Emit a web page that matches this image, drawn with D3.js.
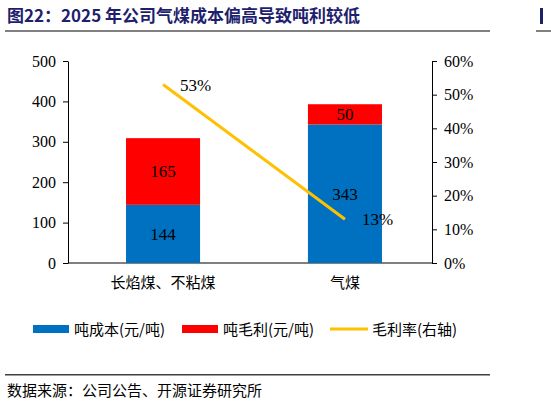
<!DOCTYPE html>
<html><head><meta charset="utf-8">
<script src="https://cdn.jsdelivr.net/npm/d3@7"></script>
<style>body{margin:0;background:#fff}</style>
</head><body><svg id="c" width="551" height="405"></svg>
<script>
const categories = ['长焰煤、不粘煤', '气煤'];
const cost = [144, 343];
const profit = [165, 50];
const margin = [0.53, 0.13];
const leftTicks = [0, 100, 200, 300, 400, 500];
const rightTicks = [0, 0.1, 0.2, 0.3, 0.4, 0.5, 0.6];

const svg = d3.select('#c');
const serif = '"Liberation Serif", "Times New Roman", serif';
const cjk = '"Noto Sans CJK SC", sans-serif';

svg.append('text').attr('x', 7).attr('y', 22).attr('fill', '#1f1f6e')
    .attr('font-family', '"Noto Sans CJK SC", sans-serif').attr('font-weight', 'bold').attr('font-size', 17)
    .text('图22：2025 年公司气煤成本偏高导致吨利较低');
svg.append('rect').attr('x', 5).attr('y', 30).attr('width', 485).attr('height', 2).attr('fill', '#808080');
svg.append('rect').attr('x', 540).attr('y', 8).attr('width', 3).attr('height', 16).attr('fill', '#1f1f6e');
svg.append('rect').attr('x', 536).attr('y', 30).attr('width', 15).attr('height', 2).attr('fill', '#808080');

const L = 68, R = 432, T = 61, B = 263;
const x = d3.scaleBand().domain(categories).range([L, R]).paddingInner(0.593).paddingOuter(0.297).align(0.537);
const y = d3.scaleLinear().domain([0, 500]).range([B, T]);
const y2 = d3.scaleLinear().domain([0, 0.6]).range([B, T]);

const ax = svg.append('g').attr('transform', `translate(${L},0)`)
    .call(d3.axisLeft(y).tickValues(leftTicks).tickSize(5).tickSizeOuter(0));
const ax2 = svg.append('g').attr('transform', `translate(${R},0)`)
    .call(d3.axisRight(y2).tickValues(rightTicks).tickSize(5).tickSizeOuter(0).tickFormat(d3.format('.0%')));
const axb = svg.append('g').attr('transform', `translate(0,${B})`)
    .call(d3.axisBottom(x).tickSize(0).tickPadding(14));
[ax, ax2].forEach(a => a.selectAll('text').attr('font-family', serif).attr('font-size', 16).attr('fill', '#000'));
ax.selectAll('text').attr('dx', -4);
ax2.selectAll('text').attr('dx', 4);
axb.selectAll('text').attr('font-family', cjk).attr('font-size', 15).attr('fill', '#000');
svg.selectAll('.domain, .tick line').attr('stroke', '#000');
axb.select('.domain').attr('d', `M${L},0H${R}`);

const bw = x.bandwidth();
categories.forEach((c, i) => {
    svg.append('rect').attr('x', x(c)).attr('width', bw).attr('y', y(cost[i])).attr('height', B - y(cost[i])).attr('fill', '#0070c0');
    svg.append('rect').attr('x', x(c)).attr('width', bw).attr('y', y(cost[i] + profit[i])).attr('height', y(cost[i]) - y(cost[i] + profit[i])).attr('fill', '#ff0000');
    svg.append('text').attr('x', x(c) + bw / 2).attr('y', y(cost[i] / 2) + 6).attr('text-anchor', 'middle')
        .attr('font-family', serif).attr('font-size', 17).text(cost[i]);
    svg.append('text').attr('x', x(c) + bw / 2).attr('y', y(cost[i] + profit[i] / 2) + 6).attr('text-anchor', 'middle')
        .attr('font-family', serif).attr('font-size', 17).text(profit[i]);
});

const line = d3.line().x((d, i) => x(categories[i]) + bw / 2).y(d => y2(d));
svg.append('path').attr('d', line(margin)).attr('fill', 'none').attr('stroke', '#ffc000').attr('stroke-width', 3);
margin.forEach((m, i) => {
    svg.append('text').attr('x', x(categories[i]) + bw / 2 + 17).attr('y', y2(m) + 6)
        .attr('font-family', serif).attr('font-size', 17).text(d3.format('.0%')(m));
});

const lg = svg.append('g').attr('font-family', cjk).attr('font-size', 15);
lg.append('rect').attr('x', 33).attr('y', 325).attr('width', 36).attr('height', 8).attr('fill', '#0070c0');
lg.append('text').attr('x', 74).attr('y', 335).text('吨成本(元/吨)');
lg.append('rect').attr('x', 182).attr('y', 325).attr('width', 36).attr('height', 8).attr('fill', '#ff0000');
lg.append('text').attr('x', 223).attr('y', 335).text('吨毛利(元/吨)');
lg.append('line').attr('x1', 330).attr('x2', 368).attr('y1', 329).attr('y2', 329).attr('stroke', '#ffc000').attr('stroke-width', 3);
lg.append('text').attr('x', 372).attr('y', 335).text('毛利率(右轴)');

svg.append('rect').attr('x', 5).attr('y', 374).attr('width', 485).attr('height', 1.5).attr('fill', '#404040');
svg.append('text').attr('x', 7).attr('y', 396).attr('font-family', cjk).attr('font-size', 15)
    .text('数据来源：公司公告、开源证券研究所');
</script></body></html>
